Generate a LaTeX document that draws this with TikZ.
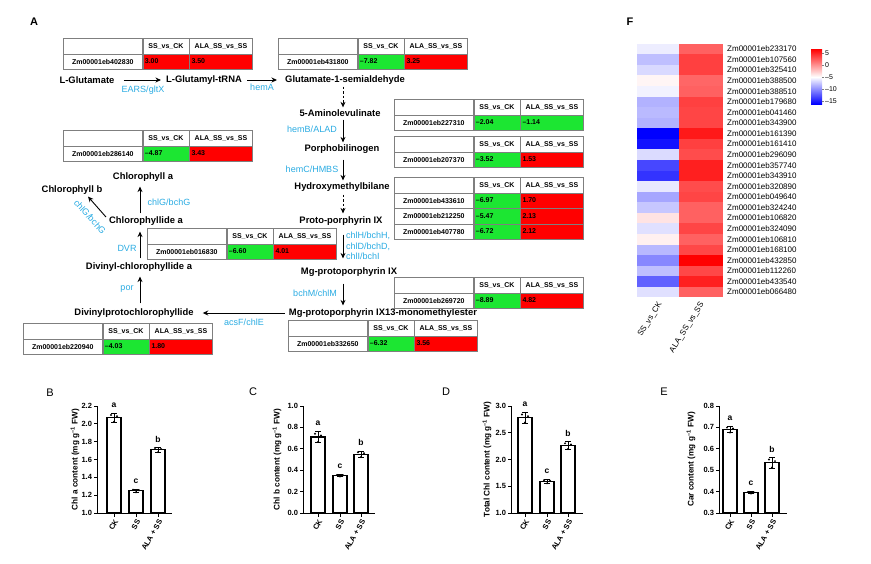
\documentclass[tikz,border=0pt]{standalone}
\usepackage{fontspec}
\setmainfont{Liberation Sans}
\usetikzlibrary{arrows.meta,calc}
\definecolor{enz}{HTML}{29ABE2}
\definecolor{up}{HTML}{FF0000}
\definecolor{down}{HTML}{1CE632}
\definecolor{rule}{HTML}{7F7F7F}
\tikzset{
  met/.style={font=\fontsize{9.4}{11}\selectfont\bfseries, inner xsep=4pt, inner ysep=1pt},
  enzlab/.style={text=enz, font=\fontsize{9}{10.5}\selectfont, inner sep=1pt},
  flow/.style={-{Stealth[length=5.5pt,width=5pt]}, line width=0.9pt},
  guess/.style={flow, dash pattern=on 2.5pt off 2pt},
  cell/.style={draw=rule, line width=0.6pt, minimum height=15.5pt, inner xsep=2pt, inner ysep=0pt,
    font=\fontsize{7}{8}\selectfont\bfseries, anchor=north west},
  panel/.style={font=\fontsize{11}{13}\selectfont, inner sep=0pt},
  hlab/.style={font=\fontsize{8}{9}\selectfont, inner sep=1pt},
  axis/.style={line width=1pt},
  ticklab/.style={font=\fontsize{7.5}{8}\selectfont\bfseries, inner sep=1.5pt},
  ylab/.style={font=\fontsize{8.2}{9}\selectfont\bfseries, rotate=90, inner sep=0pt},
  xlab/.style={font=\fontsize{7.5}{8}\selectfont\bfseries, rotate=60, anchor=east, inner sep=1pt},
  barbox/.style={draw=black, line width=1.1pt, fill=white},
  errbar/.style={line width=0.8pt},
  siglab/.style={font=\fontsize{8.5}{9}\selectfont\bfseries, inner sep=0pt},
}
% header row of a gene table
\newcommand{\tabhead}[3]{%
  \node[cell, text width=75pt] (#1-h0) at (#2,#3) {};
  \node[cell, text width=42pt, align=center] (#1-h1) at (#1-h0.north east) {SS\_vs\_CK};
  \node[cell, text width=59pt, align=center] (#1-h2) at (#1-h1.north east) {ALA\_SS\_vs\_SS};
}
% one gene row: name, x, y, gene, value, colour, value, colour
\newcommand{\tabrow}[8]{%
  \node[cell, text width=75pt, align=center] (#1-g) at (#2,#3) {Zm00001eb#4};
  \node[cell, text width=42pt, align=left, fill=#6] (#1-a) at (#1-g.north east) {#5};
  \node[cell, text width=59pt, align=left, fill=#8] (#1-b) at (#1-a.north east) {#7};
}
% bar with error bar, dots and letter: left x, mean, sd, letter
\newcommand{\chartbar}[4]{%
  \draw[barbox] (#1,513) rectangle ({#1+14},{513-(#2-\vmin)*\vsc});
  \draw[errbar] ({#1+7},{513-(#2-#3-\vmin)*\vsc}) -- ({#1+7},{513-(#2+#3-\vmin)*\vsc});
  \draw[errbar] ({#1+4},{513-(#2+#3-\vmin)*\vsc}) -- ({#1+10},{513-(#2+#3-\vmin)*\vsc});
  \draw[errbar] ({#1+4},{513-(#2-#3-\vmin)*\vsc}) -- ({#1+10},{513-(#2-#3-\vmin)*\vsc});
  \foreach \dx/\f in {4/0.6,7/-0.9,10/0.3}
    \fill ({#1+\dx},{513-(#2+(\f)*#3-\vmin)*\vsc}) circle (1.1pt);
  \node[siglab] at ({#1+7},{513-(#2+#3-\vmin)*\vsc-8}) {#4};
}

\begin{document}
\begin{tikzpicture}[x=1pt,y=-1pt]
  \useasboundingbox (0,0) rectangle (871,563);

  % ---------------- A: pathway
  \node[panel, font=\fontsize{11}{13}\selectfont\bfseries] (pA) at (34,22) {A};

  \node[met] (glu)     at (87,80)  {L-Glutamate};
  \node[met] (glutrna) at (204,80) {L-Glutamyl-tRNA};
  \node[met] (g1s)     at (345,80) {Glutamate-1-semialdehyde};
  \node[met] (ala)     at (340,113) {5-Aminolevulinate};
  \node[met] (pbg)     at (342,149) {Porphobilinogen};
  \node[met] (hmb)     at (342,187) {Hydroxymethylbilane};
  \node[met] (proto)   at (341,221) {Proto-porphyrin IX};
  \node[met] (mgp)     at (349,272) {Mg-protoporphyrin IX};
  \node[met] (mgpme)   at (383,313) {Mg-protoporphyrin IX13-monomethylester};
  \node[met] (divpch)  at (134,313) {Divinylprotochlorophyllide};
  \node[met] (divchl)  at (139,267) {Divinyl-chlorophyllide a};
  \node[met] (chlide)  at (146,221) {Chlorophyllide a};
  \node[met] (chla)    at (143,177) {Chlorophyll a};
  \node[met] (chlb)    at (72,190)  {Chlorophyll b};

  \coordinate (ax) at (343,0);
  \coordinate (bx) at (140,0);
  \draw[flow, shorten <=5pt, shorten >=1pt] (glu.east) -- (glutrna.west);
  \draw[flow, shorten <=1pt, shorten >=4pt] (glutrna.east) -- (g1s.west);
  \draw[guess, shorten <=1pt, shorten >=1pt] (g1s.south -| ax) -- (ala.north -| ax);
  \draw[flow, shorten <=2pt, shorten >=1pt] (ala.south -| ax) -- (pbg.north -| ax);
  \draw[flow, shorten <=5pt, shorten >=1pt] (pbg.south -| ax) -- (hmb.north -| ax);
  \draw[guess, shorten <=2pt, shorten >=2pt] (hmb.south -| ax) -- (proto.north -| ax);
  \draw[flow, shorten <=8pt, shorten >=8pt] (proto.south -| ax) -- (mgp.north -| ax);
  \draw[flow, shorten <=6pt, shorten >=2pt] (mgp.south -| ax) -- (mgpme.north -| ax);
  \draw[flow, shorten <=0pt, shorten >=5pt] (mgpme.west) -- (divpch.east);
  \draw[flow, shorten <=4pt, shorten >=4pt] (divpch.north -| bx) -- (divchl.south -| bx);
  \draw[flow, shorten <=3pt, shorten >=5pt] (divchl.north -| bx) -- (chlide.south -| bx);
  \draw[flow, shorten <=2pt, shorten >=4pt] (chlide.north -| bx) -- (chla.south -| bx);
  \draw[flow] ($(chlide.west)+(1,-4)$) -- ($(chlb.south)+(16,1)$);

  \node[enzlab] (e1) at (143,90)  {EARS/gltX};
  \node[enzlab] (e2) at (262,87)  {hemA};
  \node[enzlab] (e3) at (312,129) {hemB/ALAD};
  \node[enzlab] (e4) at (312,169) {hemC/HMBS};
  \node[enzlab, anchor=west, align=left] (e5) at (345,246) {chlH/bchH,\\chlD/bchD,\\chlI/bchI};
  \node[enzlab] (e6) at (315,293) {bchM/chlM};
  \node[enzlab] (e7) at (244,322) {acsF/chlE};
  \node[enzlab] (e8) at (127,289) {por};
  \node[enzlab] (e9) at (127,248) {DVR};
  \node[enzlab] (e10) at (169,202) {chlG/bchG};
  \node[enzlab, rotate=-48] (e11) at (90,217) {chlG/bchG};

  % gene tables
  \tabhead{t1}{63}{38}
  \tabrow{t1r}{63}{53.5}{402830}{3.00}{up}{3.50}{up}
  \tabhead{t2}{278}{38}
  \tabrow{t2r}{278}{53.5}{431800}{--7.82}{down}{3.25}{up}
  \tabhead{t3}{394}{99}
  \tabrow{t3r}{394}{114.5}{227310}{--2.04}{down}{--1.14}{down}
  \tabhead{t4}{394}{136}
  \tabrow{t4r}{394}{151.5}{207370}{--3.52}{down}{1.53}{up}
  \tabhead{t5}{394}{177}
  \tabrow{t5r1}{394}{192.5}{433610}{--6.97}{down}{1.70}{up}
  \tabrow{t5r2}{394}{208}{212250}{--5.47}{down}{2.13}{up}
  \tabrow{t5r3}{394}{223.5}{407780}{--6.72}{down}{2.12}{up}
  \tabhead{t6}{394}{277}
  \tabrow{t6r}{394}{292.5}{269720}{--8.89}{down}{4.82}{up}
  \tabhead{t7}{288}{320}
  \tabrow{t7r}{288}{335.5}{332650}{--6.32}{down}{3.56}{up}
  \tabhead{t8}{23}{323}
  \tabrow{t8r}{23}{338.5}{220940}{--4.03}{down}{1.80}{up}
  \tabhead{t9}{147}{228}
  \tabrow{t9r}{147}{243.5}{016830}{--6.60}{down}{4.01}{up}
  \tabhead{t10}{63}{130}
  \tabrow{t10r}{63}{145.5}{286140}{--4.87}{down}{3.43}{up}

  % ---------------- F: heatmap
  \node[panel, font=\fontsize{11}{13}\selectfont\bfseries] (pF) at (630,22) {F};
  \foreach \g/\cl/\cr [count=\i] in {233170/blue!7/red!62, 107560/blue!25/red!75,
      325410/blue!15/red!75, 388500/red!4/red!60, 388510/blue!5/red!62,
      179680/blue!30/red!75, 041460/blue!27/red!73, 343900/blue!30/red!73,
      161390/blue!100/red!90, 161410/blue!93/red!75, 296090/blue!14/red!70,
      357740/blue!72/red!88, 343910/blue!80/red!88, 320890/blue!9/red!70,
      049640/blue!35/red!73, 324240/blue!22/red!62, 106820/red!11/red!62,
      324090/blue!12/red!73, 106810/red!6/red!62, 168100/blue!28/red!72,
      432850/blue!47/red!100, 112260/blue!25/red!72, 433540/blue!62/red!88,
      066480/blue!12/red!62}{
    \fill[fill=\cl] (637,{43.7+(\i-1)*10.57}) rectangle (679,{43.7+\i*10.57});
    \fill[fill=\cr] (679,{43.7+(\i-1)*10.57}) rectangle (723,{43.7+\i*10.57});
    \node[hlab, anchor=west] (hm\i) at (726,{43.7+(\i-0.5)*10.57}) {Zm00001eb\g};
  }
  \node[hlab, rotate=58, anchor=east] (hc1) at (661,302) {SS\_vs\_CK};
  \node[hlab, rotate=58, anchor=east] (hc2) at (703,302) {ALA\_SS\_vs\_SS};

  % colour key
  \shade[top color=red, bottom color=white] (811,49) rectangle (822,77);
  \shade[top color=white, bottom color=blue] (811,77) rectangle (822,104);
  \foreach \v/\y [count=\k] in {5/53,0/65,--5/77,--10/89,--15/101}{
    \draw[line width=0.4pt, gray] (822,\y) -- (824,\y);
    \node[font=\fontsize{7}{8}\selectfont, anchor=west, inner sep=1pt] (key\k) at (824,\y) {\v};
  }

  % ---------------- B
  \begin{scope}
    \def\vmin{1.0}\def\vsc{89.17}
    \node[panel] (pB) at (50,393) {B};
    \draw[axis] (97,406) -- (97,513) -- (172,513);
    \foreach \t [count=\k] in {1.0,1.2,1.4,1.6,1.8,2.0,2.2}
      \draw[axis] (97,{513-(\t-\vmin)*\vsc}) -- ++(-3,0) node[ticklab, left] (tB\k) {\t};
    \node[ylab] (yB) at (75,459.5) {Chl a content (mg g\textsuperscript{--1} FW)};
    \chartbar{107}{2.07}{0.05}{a}
    \chartbar{129}{1.25}{0.02}{c}
    \chartbar{151}{1.71}{0.03}{b}
    \foreach \c/\lab [count=\k] in {114/CK,136/SS,158/ALA + SS}{
      \draw[axis] (\c,513) -- (\c,517);
      \node[xlab] (xB\k) at (\c+3,519) {\lab};
    }
  \end{scope}

  % ---------------- C
  \begin{scope}
    \def\vmin{0}\def\vsc{107}
    \node[panel] (pC) at (253,392) {C};
    \draw[axis] (303,406) -- (303,513) -- (375,513);
    \foreach \t [count=\k] in {0.0,0.2,0.4,0.6,0.8,1.0}
      \draw[axis] (303,{513-(\t-\vmin)*\vsc}) -- ++(-3,0) node[ticklab, left] (tC\k) {\t};
    \node[ylab] (yC) at (277,459.5) {Chl b content (mg g\textsuperscript{--1} FW)};
    \chartbar{311}{0.71}{0.05}{a}
    \chartbar{333}{0.35}{0.01}{c}
    \chartbar{354}{0.55}{0.03}{b}
    \foreach \c/\lab [count=\k] in {318/CK,340/SS,361/ALA + SS}{
      \draw[axis] (\c,513) -- (\c,517);
      \node[xlab] (xC\k) at (\c+3,519) {\lab};
    }
  \end{scope}

  % ---------------- D
  \begin{scope}
    \def\vmin{1.0}\def\vsc{53.5}
    \node[panel] (pD) at (446,392) {D};
    \draw[axis] (511,406) -- (511,513) -- (583,513);
    \foreach \t [count=\k] in {1.0,1.5,2.0,2.5,3.0}
      \draw[axis] (511,{513-(\t-\vmin)*\vsc}) -- ++(-3,0) node[ticklab, left] (tD\k) {\t};
    \node[ylab] (yD) at (487,459.5) {Total Chl content (mg g\textsuperscript{--1} FW)};
    \chartbar{518}{2.78}{0.10}{a}
    \chartbar{540}{1.59}{0.04}{c}
    \chartbar{561}{2.26}{0.07}{b}
    \foreach \c/\lab [count=\k] in {525/CK,547/SS,568/ALA + SS}{
      \draw[axis] (\c,513) -- (\c,517);
      \node[xlab] (xD\k) at (\c+3,519) {\lab};
    }
  \end{scope}

  % ---------------- E
  \begin{scope}
    \def\vmin{0.3}\def\vsc{214}
    \node[panel] (pE) at (664,392) {E};
    \draw[axis] (719,406) -- (719,513) -- (787,513);
    \foreach \t [count=\k] in {0.3,0.4,0.5,0.6,0.7,0.8}
      \draw[axis] (719,{513-(\t-\vmin)*\vsc}) -- ++(-3,0) node[ticklab, left] (tE\k) {\t};
    \node[ylab] (yE) at (691,459.5) {Car content (mg g\textsuperscript{--1} FW)};
    \chartbar{723}{0.69}{0.015}{a}
    \chartbar{744}{0.395}{0.005}{c}
    \chartbar{765}{0.535}{0.025}{b}
    \foreach \c/\lab [count=\k] in {730/CK,751/SS,772/ALA + SS}{
      \draw[axis] (\c,513) -- (\c,517);
      \node[xlab] (xE\k) at (\c+3,519) {\lab};
    }
  \end{scope}
\end{tikzpicture}
\end{document}
